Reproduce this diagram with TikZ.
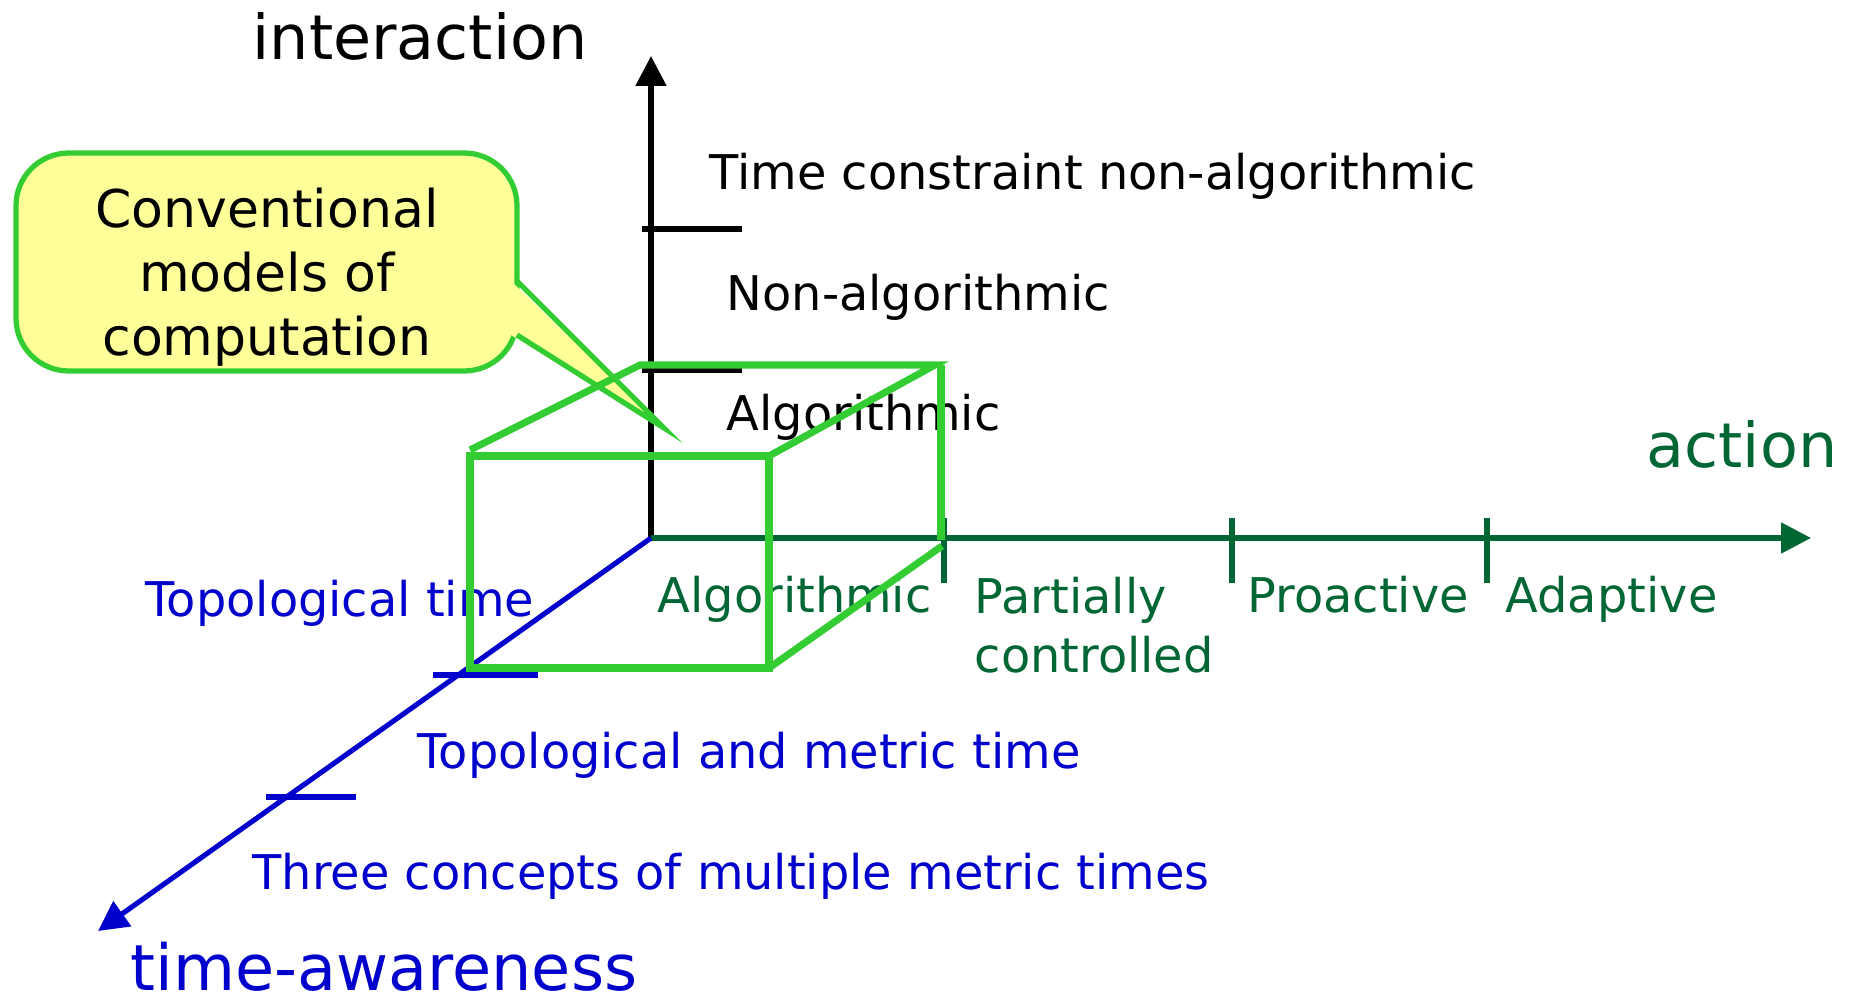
\documentclass[tikz,border=0pt]{standalone}
\usepackage{fontspec}
\setmainfont{DejaVu Sans}
\usetikzlibrary{arrows.meta}
\definecolor{cubegreen}{HTML}{33CC33}
\definecolor{actgreen}{HTML}{006633}
\definecolor{timeblue}{HTML}{0000CC}
\definecolor{noteyellow}{HTML}{FFFF99}
\tikzset{lbl/.style = {anchor=base west, inner sep=0pt, font=\fontsize{13.6}{16}\selectfont},
  axtitle/.style = {anchor=base west, inner sep=0pt, font=\fontsize{17.6}{21}\selectfont},
  axis/.style = {line width=1.45pt, -{Triangle[length=8.5pt,width=8.5pt]}},
  tick/.style = {line width=1.45pt},
  edge3d/.style = {cubegreen, line width=2pt}}

\begin{document}
\begin{tikzpicture}[x=0.01cm, y=-0.01cm]
  \useasboundingbox (0,0) rectangle (1854,1000);
  \coordinate (O) at (651,538);
  \coordinate (I) at (651,56);
  \coordinate (A) at (1811,538);
  \coordinate (T) at (98,931);
  \draw[axis] (O) -- (I);
  \draw[axis, actgreen] (O) -- (A);
  \draw[axis, timeblue] (O) -- (T);
  \foreach \y in {229,370} \draw[tick] (642,\y) -- (742,\y);
  \foreach \x in {944,1232,1487} \draw[tick, actgreen] (\x,518) -- (\x,583);
  \draw[tick, timeblue] (433,675) -- (538,675);
  \draw[tick, timeblue] (266,797) -- (356,797);
  \node[axtitle, anchor=base] (inter) at (420,59) {interaction};
  \node[axtitle, actgreen] (act) at (1646,467) {action};
  \node[axtitle, timeblue, font=\fontsize{18.1}{21}\selectfont] (aware) at (130,990) {time-awareness};
  \node[lbl] (i3) at (709,189) {Time constraint non-algorithmic};
  \node[lbl] (i2) at (726,310) {Non-algorithmic};
  \node[lbl] (i1) at (726,430) {Algorithmic};
  \node[lbl, actgreen] (a1) at (657,612) {Algorithmic};
  \node[lbl, actgreen, align=left, anchor=north west] (a2) at (974,576) {Partially\\[0.8pt]controlled};
  \node[lbl, actgreen] (a3) at (1247,612) {Proactive};
  \node[lbl, actgreen] (a4) at (1505,612) {Adaptive};
  \node[lbl, timeblue] (t1) at (145,616) {Topological time};
  \node[lbl, timeblue] (t2) at (417,768) {Topological and metric time};
  \node[lbl, timeblue] (t3) at (252,889) {Three concepts of multiple metric times};
  \draw[cubegreen, line width=1.5pt, fill=noteyellow, rounded corners=15pt] (16,153) rectangle (517,371);
  \fill[noteyellow] (511,281) -- (664,428) -- (511,335) -- cycle;
  \draw[cubegreen, line width=1.5pt] (517,281) -- (664,428) -- (517,335);
  \node[align=center, inner sep=0pt, font=\fontsize{14.8}{18.1}\selectfont] (note) at (267,277) {Conventional\\models of\\computation};
  \draw[edge3d] (470,456) rectangle (769,668);
  \draw[edge3d] (470,450) -- (640,365) -- (935,365) -- (769,456);
  \draw[edge3d] (941,365) -- (941,540);
  \draw[edge3d] (769,668) -- (942,546);
\end{tikzpicture}
\end{document}
